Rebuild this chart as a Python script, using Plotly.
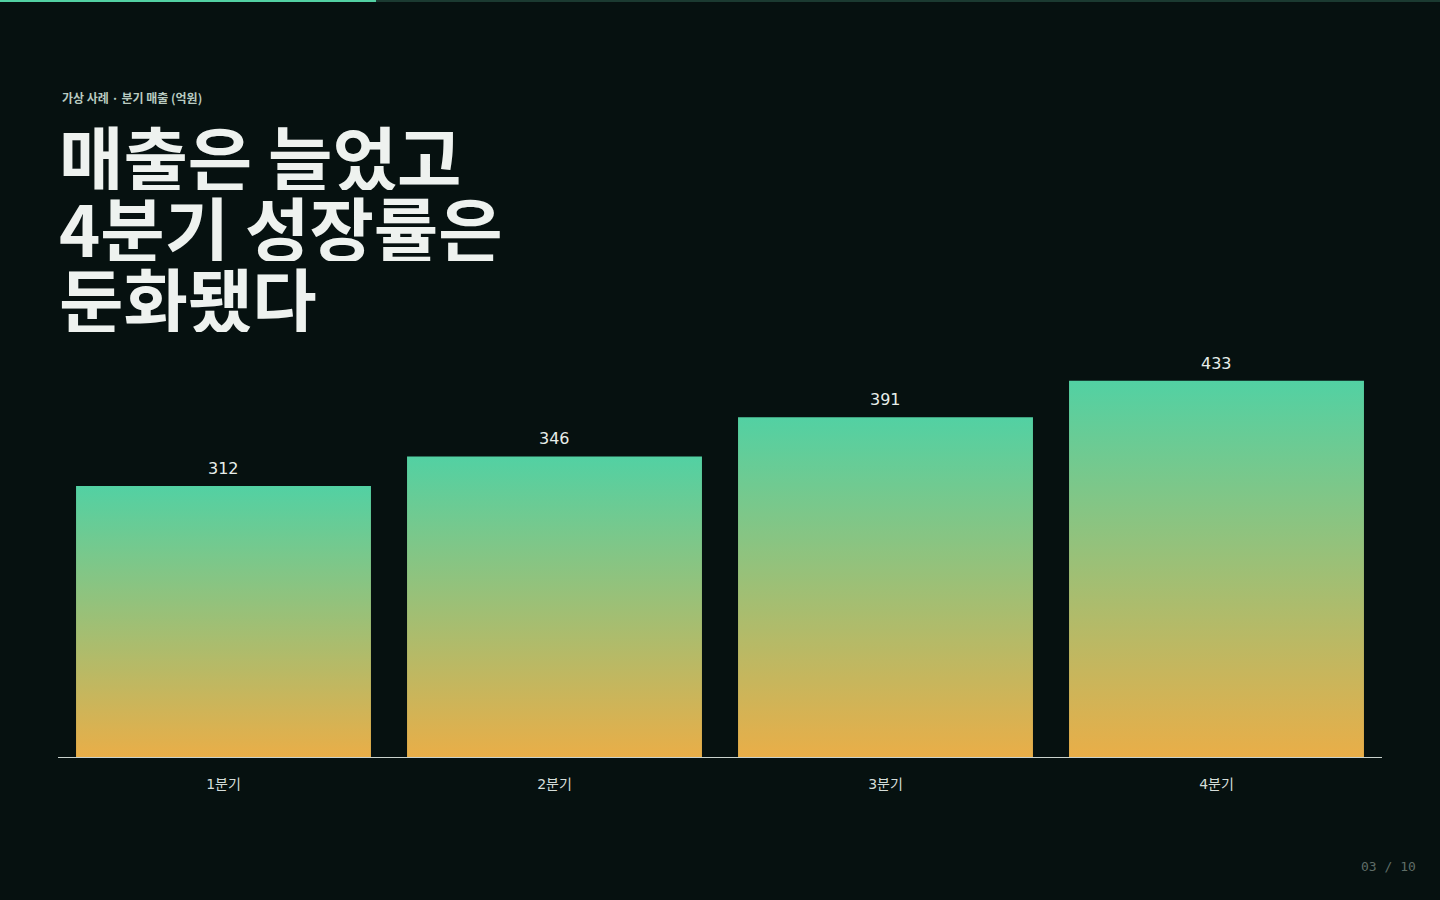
import plotly.graph_objects as go

# data
quarters = ["1분기", "2분기", "3분기", "4분기"]
sales = [312, 346, 391, 433]
value_labels = ["312", "346", "391", "433"]

eyebrow = "가상 사례 · 분기 매출 (억원)"
headline = ["매출은 늘었고", "4분기 성장률은", "둔화됐다"]
page_no = "03 / 10"

# styles
BG = "#061110"
TEAL = "#52d1a3"
ORANGE = "#e9ae48"
TEXT = "#eef2ef"
KR = "Noto Sans CJK KR"
NUM = "DejaVu Sans, Noto Sans CJK KR"
W, H = 1440, 900
ML, MR, MT, MB = 58, 58, 340, 143
PW, PH = W - ML - MR, H - MT - MB
BAR_W = 0.891


def px_x(px):
    return (px - ML) / PW


def px_y(py):
    return (H - MB - py) / PH


fig = go.Figure()

# each bar is a filled rectangle so it can carry a vertical gradient
for i, v in enumerate(sales):
    x0, x1 = i - BAR_W / 2, i + BAR_W / 2
    fig.add_trace(
        go.Scatter(
            x=[x0, x1, x1, x0, x0],
            y=[0, 0, v, v, 0],
            mode="lines",
            fill="toself",
            line=dict(width=0, color=TEAL),
            fillgradient=dict(
                type="vertical",
                colorscale=[[0, ORANGE], [1, TEAL]],
            ),
            hoverinfo="skip",
            showlegend=False,
        )
    )

annotations = []
for i, v in enumerate(sales):
    annotations.append(
        dict(
            x=i, y=v, xref="x", yref="y",
            text=value_labels[i],
            showarrow=False,
            yanchor="bottom",
            yshift=6,
            font=dict(family=NUM, size=16, color="#e8eeea"),
        )
    )

annotations.append(
    dict(
        x=px_x(60), y=px_y(97), xref="paper", yref="paper",
        text=eyebrow, showarrow=False, xanchor="left", yanchor="middle",
        font=dict(family=KR, size=12, color="#b9cbc1", weight="bold"),
    )
)

for line, cy in zip(headline, [155, 226, 297]):
    annotations.append(
        dict(
            x=px_x(57), y=px_y(cy), xref="paper", yref="paper",
            text=line, showarrow=False, xanchor="left", yanchor="middle",
            height=70,
            font=dict(family=KR, size=70, color=TEXT, weight="bold"),
        )
    )

annotations.append(
    dict(
        x=px_x(1418), y=px_y(866), xref="paper", yref="paper",
        text=page_no, showarrow=False, xanchor="right", yanchor="middle",
        font=dict(family="DejaVu Sans Mono", size=13, color="#5f6d67"),
    )
)

shapes = [
    # progress bar at the very top
    dict(type="rect", xref="paper", yref="paper",
         x0=px_x(0), x1=px_x(W), y0=px_y(2), y1=px_y(0),
         fillcolor="#1b3a31", line=dict(width=0), layer="below"),
    dict(type="rect", xref="paper", yref="paper",
         x0=px_x(0), x1=px_x(376), y0=px_y(2), y1=px_y(0),
         fillcolor=TEAL, line=dict(width=0), layer="below"),
]

fig.update_layout(
    width=W,
    height=H,
    margin=dict(l=ML, r=MR, t=MT, b=MB),
    paper_bgcolor=BG,
    plot_bgcolor=BG,
    showlegend=False,
    annotations=annotations,
    shapes=shapes,
    xaxis=dict(
        range=[-0.5, 3.5],
        tickvals=list(range(len(quarters))),
        ticktext=quarters,
        showgrid=False,
        zeroline=False,
        showline=True,
        linecolor="#c9d2cd",
        linewidth=1,
        ticks="outside",
        ticklen=0,
        ticklabelstandoff=14,
        tickfont=dict(family=NUM, size=14, color="#d5ddd9"),
        fixedrange=True,
    ),
    yaxis=dict(
        range=[0, 480],
        showgrid=False,
        zeroline=False,
        showticklabels=False,
        fixedrange=True,
    ),
)

fig.write_html(
    "out.html",
    config={"displayModeBar": False},
    post_script="document.body.style.margin='0';document.body.style.background='" + BG + "';",
)
